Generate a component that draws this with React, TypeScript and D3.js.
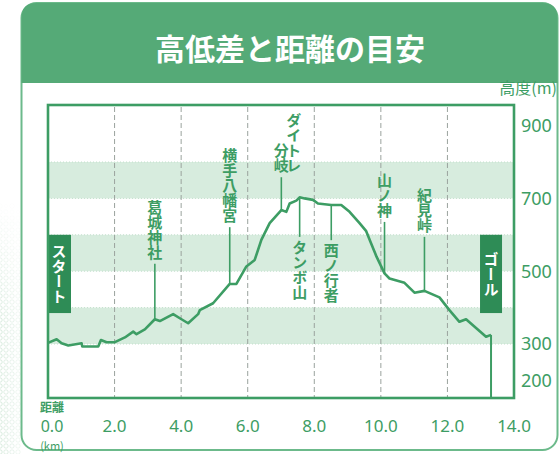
import React from "react";
import * as d3 from "d3";

// ---- data ----
const distances = [0, 0.26, 0.41, 0.61, 1.01, 1.03, 1.51, 1.59, 1.76, 2.01, 2.31, 2.56, 2.66, 2.91, 3.21, 3.36, 3.76, 4.01, 4.21, 4.51, 4.56, 4.96, 5.46, 5.66, 5.96, 6.21, 6.41, 6.66, 7.01, 7.16, 7.26, 7.46, 7.56, 7.71, 7.96, 8.11, 8.51, 8.81, 9.06, 9.36, 9.56, 9.69, 9.87, 10.11, 10.26, 10.71, 11.01, 11.31, 11.76, 12.06, 12.36, 12.56, 13.16, 13.31];
const elevations = [303, 313, 302, 296, 302, 293, 293, 311, 305, 305, 318, 334, 327, 340, 368, 363, 382, 368, 357, 382, 393, 412, 465, 465, 513, 531, 586, 632, 668, 663, 686, 694, 703, 700, 696, 686, 682, 682, 663, 632, 610, 580, 540, 494, 480, 468, 441, 446, 428, 393, 361, 368, 320, 325];

const landmarkNames = [["葛城神社"], ["横手八幡宮"], ["ダイトレ", "分岐"], ["タンボ山"], ["西ノ行者"], ["山ノ神"], ["紀見峠"]];
const landmarkKm = [3.21, 5.46, 7.01, 7.56, 8.51, 10.11, 11.31];
const landmarkSide = ["above", "above", "above", "below", "below", "above", "above"];
const landmarkLabelTopM = [696, 838, 934, 586, 577, 770, 729];

const xTicks = [0, 2, 4, 6, 8, 10, 12, 14];
const xTickLabels = ["0.0", "2.0", "4.0", "6.0", "8.0", "10.0", "12.0", "14.0"];
const gridKm = [2, 4, 6, 8, 10, 12];
const yTicks = [900, 700, 500, 300, 200];
const bands = [[700, 800], [500, 600], [300, 400]];
const startKm = 0;
const goalKm = 13.31;
const markerBoxM = [600, 385];

const title = "高低差と距離の目安";
const yTitle = "高度(m)";

// ---- style ----
const GREEN = "#3d9d64";
const DARK = "#2e8c56";
const BANNER = "#55aa77";
const BAND = "#d7ecde";
const FONT_JP = "'Noto Sans CJK JP', 'Noto Sans', sans-serif";
const FONT_NUM = "'Noto Sans', 'DejaVu Sans', sans-serif";

export default function App() {
  const W = 560, H = 454;
  const x = d3.scaleLinear().domain([0, 14]).range([48, 514]);
  const y = d3.scaleLinear().domain([300, 800]).range([344, 162]);
  const top = 105, bottom = 398;

  const pts = distances.map((d, i) => [d, elevations[i]] as [number, number]);
  const line = d3.line<[number, number]>().x((d) => x(d[0])).y((d) => y(d[1]));
  const elevAt = (km: number) => {
    const i = d3.bisectLeft(distances, km);
    if (i <= 0) return elevations[0];
    if (i >= distances.length) return elevations[elevations.length - 1];
    const d0 = distances[i - 1], d1 = distances[i];
    const t = (km - d0) / (d1 - d0 || 1);
    return elevations[i - 1] + t * (elevations[i] - elevations[i - 1]);
  };

  const FS = 15;
  const vText = (str: string, cx: number, ty: number, fill: string, fs = FS, key?: any) => (
    <text
      key={key}
      x={cx}
      y={ty}
      fill={fill}
      fontSize={fs}
      fontWeight={700}
      fontFamily={FONT_JP}
      style={{ writingMode: "vertical-rl" as any }}
    >
      {str}
    </text>
  );

  // hex-ish dot pattern on the left
  const dots: JSX.Element[] = [];
  for (let yy = 200; yy < H; yy += 6) {
    for (let xx = (yy / 6) % 2 ? 0 : 3; xx < 22; xx += 6) {
      const a = Math.min(1, (yy - 200) / 120) * (1 - xx / 30);
      dots.push(<circle key={`${xx}-${yy}`} cx={xx} cy={yy} r={2.2} fill="none" stroke="#cfe6d6" strokeWidth={0.8} opacity={a} />);
    }
  }

  const boxW = 22;

  return (
    <svg width={W} height={H} style={{ position: "absolute", left: 0, top: 0, background: "#fff" }}>
      {dots}
      {/* panel */}
      <rect x={21.5} y={3} width={536} height={447} rx={15} fill="#fff" stroke="#6cba8b" strokeWidth={2} />
      <path d={`M21.5,83 V18 Q21.5,3 36.5,3 H542.5 Q557.5,3 557.5,18 V83 Z`} fill={BANNER} />
      <text x={290} y={60} textAnchor="middle" fill="#fff" fontSize={30} fontWeight={700} fontFamily={FONT_JP}>{title}</text>
      <text x={557} y={94} textAnchor="end" fill={GREEN} fontSize={16} fontFamily={FONT_JP}>{yTitle}</text>

      {/* bands */}
      {bands.map(([a, b], i) => (
        <g key={i}>
          <rect x={x(0)} y={y(b)} width={x(14) - x(0)} height={y(a) - y(b)} fill={BAND} />
          <line x1={x(0)} x2={x(14)} y1={y(b)} y2={y(b)} stroke="#c3e0cc" strokeDasharray="1,2" />
          <line x1={x(0)} x2={x(14)} y1={y(a)} y2={y(a)} stroke="#c3e0cc" strokeDasharray="1,2" />
        </g>
      ))}

      {/* grid */}
      {gridKm.map((k) => (
        <line key={k} x1={x(k)} x2={x(k)} y1={top + 2} y2={bottom} stroke="#9aa39d" strokeWidth={1} strokeDasharray="5,3" />
      ))}

      {/* start & goal */}
      <rect x={x(startKm) - 1} y={y(markerBoxM[0])} width={boxW + 2} height={y(markerBoxM[1]) - y(markerBoxM[0])} fill={DARK} />
      {vText("スタート", x(startKm) + 11, y(markerBoxM[0]) + 9, "#fff")}
      <line x1={x(goalKm)} x2={x(goalKm)} y1={y(elevAt(goalKm))} y2={bottom} stroke={GREEN} strokeWidth={2} />
      <rect x={x(goalKm) - boxW / 2} y={y(markerBoxM[0])} width={boxW} height={y(markerBoxM[1]) - y(markerBoxM[0])} fill={DARK} />
      {vText("ゴール", x(goalKm), y(markerBoxM[0]) + 17, "#fff")}

      {/* landmarks */}
      {landmarkNames.map((cols, i) => {
        const mx = x(landmarkKm[i]);
        const py = y(elevAt(landmarkKm[i]));
        const ty = y(landmarkLabelTopM[i]);
        const maxLen = d3.max(cols, (c) => c.length) as number;
        const labelBottom = ty + maxLen * FS;
        const lineEls =
          landmarkSide[i] === "above" ? (
            <line x1={mx} x2={mx} y1={labelBottom + 4} y2={py} stroke={GREEN} strokeWidth={1.6} />
          ) : (
            <line x1={mx} x2={mx} y1={py} y2={ty - 3} stroke={GREEN} strokeWidth={1.6} />
          );
        return (
          <g key={i}>
            {lineEls}
            {cols.map((c, j) => {
              const cx = cols.length > 1 ? mx + (cols.length - 1 - j) * 12.5 : mx;
              const cty = ty + (maxLen - c.length) * FS;
              return vText(c, cx, cty, GREEN, FS, j);
            })}
          </g>
        );
      })}

      {/* profile */}
      <path d={line(pts) || ""} fill="none" stroke={GREEN} strokeWidth={2.6} strokeLinejoin="round" />

      {/* frame */}
      <rect x={x(0)} y={top} width={x(14) - x(0)} height={bottom - top} fill="none" stroke={GREEN} strokeWidth={2.6} />

      {/* y ticks */}
      {yTicks.map((v) => (
        <text key={v} x={521} y={y(v)} dy="0.36em" fill={GREEN} fontSize={18} fontFamily={FONT_NUM}>{v}</text>
      ))}

      {/* x ticks */}
      {xTicks.map((k, i) => (
        <text key={k} x={x(k) + (i === 0 ? 4 : 0)} y={432} textAnchor="middle" fill={GREEN} fontSize={i === 0 ? 16 : 17} fontFamily={FONT_NUM}>{xTickLabels[i]}</text>
      ))}
      <text x={x(0) + 4} y={412} textAnchor="middle" fill={GREEN} fontSize={12} fontWeight={700} fontFamily={FONT_JP}>距離</text>
      <text x={x(0) + 4} y={450} textAnchor="middle" fill={GREEN} fontSize={11} fontFamily={FONT_JP}>(km)</text>
    </svg>
  );
}
